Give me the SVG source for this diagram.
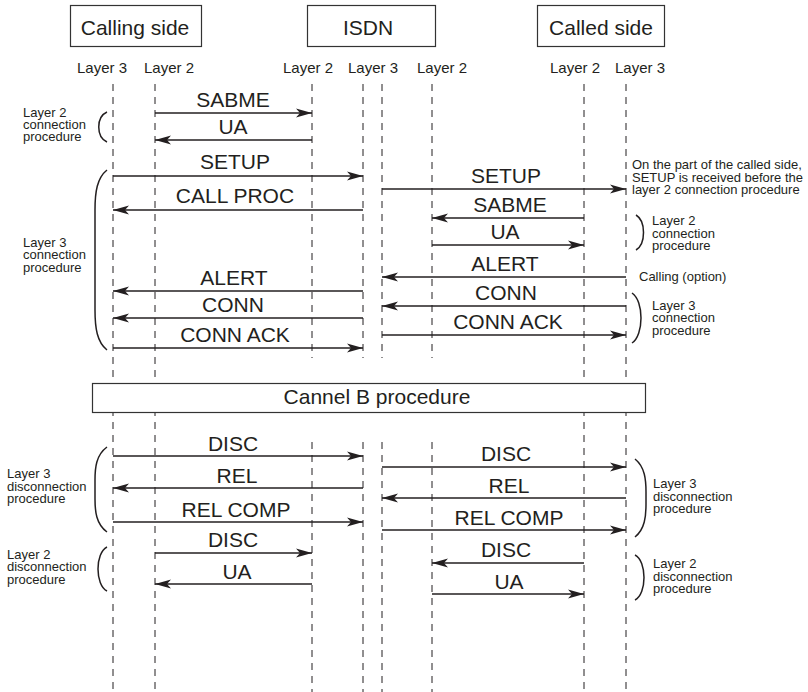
<svg xmlns="http://www.w3.org/2000/svg" width="808" height="692" viewBox="0 0 808 692">
<style>
  text { font-family: "Liberation Sans", Arial, sans-serif; fill: #231f20; }
  .hdr { font-size: 21px; text-anchor: middle; }
  .lay { font-size: 15px; text-anchor: middle; }
  .msgt { font-size: 21px; text-anchor: middle; }
  .note { font-size: 13px; }
  .box { fill: #fff; stroke: #333; stroke-width: 1.2; }
  .life { stroke: #231f20; stroke-width: 1; stroke-dasharray: 7 6; fill: none; }
  .msg { stroke: #231f20; stroke-width: 1.5; fill: none; marker-end: url(#ah); }
  .brace { stroke: #231f20; stroke-width: 1.5; fill: none; }
</style>
<defs>
  <marker id="ah" markerUnits="userSpaceOnUse" markerWidth="17" markerHeight="11" refX="16" refY="5" orient="auto">
    <path d="M0,0.5 L16,5 L0,9.5 L4,5 Z" fill="#231f20"/>
  </marker>
</defs>
<rect width="808" height="692" fill="#fff"/>

<g id="lifelines">
  <line class="life" x1="113" y1="84" x2="113" y2="692"/>
  <line class="life" x1="155" y1="84" x2="155" y2="692"/>
  <line class="life" x1="312" y1="84" x2="312" y2="358"/>
  <line class="life" x1="312" y1="442" x2="312" y2="692"/>
  <line class="life" x1="363" y1="84" x2="363" y2="358"/>
  <line class="life" x1="363" y1="442" x2="363" y2="692"/>
  <line class="life" x1="382" y1="84" x2="382" y2="358"/>
  <line class="life" x1="382" y1="442" x2="382" y2="692"/>
  <line class="life" x1="432" y1="84" x2="432" y2="358"/>
  <line class="life" x1="432" y1="442" x2="432" y2="692"/>
  <line class="life" x1="584" y1="84" x2="584" y2="692"/>
  <line class="life" x1="626" y1="84" x2="626" y2="692"/>
</g>

<g id="calling-side">
  <rect class="box" x="70.5" y="5.5" width="131" height="41"/>
  <text class="hdr" x="135" y="35">Calling side</text>
  <text class="lay" x="102" y="73">Layer 3</text>
  <text class="lay" x="169" y="73">Layer 2</text>
</g>
<g id="isdn">
  <rect class="box" x="307.5" y="5.5" width="128" height="41"/>
  <text class="hdr" x="368" y="35">ISDN</text>
  <text class="lay" x="308" y="73">Layer 2</text>
  <text class="lay" x="373" y="73">Layer 3</text>
  <text class="lay" x="442" y="73">Layer 2</text>
</g>
<g id="called-side">
  <rect class="box" x="537.5" y="5.5" width="127" height="41"/>
  <text class="hdr" x="601" y="35">Called side</text>
  <text class="lay" x="575" y="73">Layer 2</text>
  <text class="lay" x="640" y="73">Layer 3</text>
</g>

<g id="channel-b">
  <rect class="box" x="92.5" y="383.5" width="553" height="29"/>
  <text class="hdr" x="377" y="404">Cannel B procedure</text>
</g>

<g id="connectors">
  <line class="msg" x1="155" y1="113" x2="312" y2="113"/>
  <line class="msg" x1="312" y1="140" x2="155" y2="140"/>
  <line class="msg" x1="113" y1="176" x2="363" y2="176"/>
  <line class="msg" x1="363" y1="210" x2="113" y2="210"/>
  <line class="msg" x1="363" y1="291" x2="113" y2="291"/>
  <line class="msg" x1="363" y1="318" x2="113" y2="318"/>
  <line class="msg" x1="113" y1="348" x2="363" y2="348"/>

  <line class="msg" x1="382" y1="189" x2="626" y2="189"/>
  <line class="msg" x1="584" y1="218" x2="432" y2="218"/>
  <line class="msg" x1="432" y1="245" x2="584" y2="245"/>
  <line class="msg" x1="626" y1="277" x2="382" y2="277"/>
  <line class="msg" x1="626" y1="306" x2="382" y2="306"/>
  <line class="msg" x1="382" y1="335" x2="626" y2="335"/>

  <line class="msg" x1="113" y1="456" x2="363" y2="456"/>
  <line class="msg" x1="363" y1="488" x2="113" y2="488"/>
  <line class="msg" x1="113" y1="522" x2="363" y2="522"/>
  <line class="msg" x1="155" y1="553" x2="312" y2="553"/>
  <line class="msg" x1="312" y1="584" x2="155" y2="584"/>

  <line class="msg" x1="382" y1="467" x2="626" y2="467"/>
  <line class="msg" x1="626" y1="498" x2="382" y2="498"/>
  <line class="msg" x1="382" y1="530" x2="626" y2="530"/>
  <line class="msg" x1="584" y1="563" x2="432" y2="563"/>
  <line class="msg" x1="432" y1="594" x2="584" y2="594"/>
</g>

<g id="message-labels">
  <text class="msgt" x="233" y="107">SABME</text>
  <text class="msgt" x="233" y="134">UA</text>
  <text class="msgt" x="235" y="169">SETUP</text>
  <text class="msgt" x="235" y="203">CALL PROC</text>
  <text class="msgt" x="234" y="285">ALERT</text>
  <text class="msgt" x="233" y="312">CONN</text>
  <text class="msgt" x="235" y="342">CONN ACK</text>

  <text class="msgt" x="506" y="183">SETUP</text>
  <text class="msgt" x="510" y="212">SABME</text>
  <text class="msgt" x="505" y="239">UA</text>
  <text class="msgt" x="505" y="271">ALERT</text>
  <text class="msgt" x="506" y="300">CONN</text>
  <text class="msgt" x="508" y="329">CONN ACK</text>

  <text class="msgt" x="233" y="451">DISC</text>
  <text class="msgt" x="237" y="483">REL</text>
  <text class="msgt" x="236" y="517">REL COMP</text>
  <text class="msgt" x="233" y="547">DISC</text>
  <text class="msgt" x="237" y="579">UA</text>

  <text class="msgt" x="506" y="461">DISC</text>
  <text class="msgt" x="509" y="493">REL</text>
  <text class="msgt" x="509" y="525">REL COMP</text>
  <text class="msgt" x="506" y="557">DISC</text>
  <text class="msgt" x="509" y="589">UA</text>
</g>

<g id="annot-left-l2-conn">
  <path class="brace" d="M107,112 C96,117 96,137 107,142"/>
  <text class="note" x="23" y="117">Layer 2</text>
  <text class="note" x="23" y="129">connection</text>
  <text class="note" x="23" y="141">procedure</text>
</g>
<g id="annot-left-l3-conn">
  <path class="brace" d="M107,170 C97,178 95,192 95,210 L95,310 C95,328 97,342 107,350"/>
  <text class="note" x="23" y="246.5">Layer 3</text>
  <text class="note" x="23" y="259">connection</text>
  <text class="note" x="23" y="271.5">procedure</text>
</g>
<g id="annot-setup-note">
  <text class="note" x="632" y="169">On the part of the called side,</text>
  <text class="note" x="632" y="181.5">SETUP is received before the</text>
  <text class="note" x="632" y="194">layer 2 connection procedure</text>
</g>
<g id="annot-right-l2-conn">
  <path class="brace" d="M636,215 C646,221 646,244 636,250"/>
  <text class="note" x="652" y="225">Layer 2</text>
  <text class="note" x="652" y="237.5">connection</text>
  <text class="note" x="652" y="250">procedure</text>
</g>
<g id="annot-calling-option">
  <text class="note" x="639" y="281">Calling (option)</text>
</g>
<g id="annot-right-l3-conn">
  <path class="brace" d="M632,293 C644,301 644,335 632,343"/>
  <text class="note" x="652" y="309.5">Layer 3</text>
  <text class="note" x="652" y="322">connection</text>
  <text class="note" x="652" y="334.5">procedure</text>
</g>
<g id="annot-left-l3-disc">
  <path class="brace" d="M107,447 C96,455 95,468 95,480 L95,499 C95,511 96,524 107,532"/>
  <text class="note" x="7" y="478">Layer 3</text>
  <text class="note" x="7" y="490.5">disconnection</text>
  <text class="note" x="7" y="503">procedure</text>
</g>
<g id="annot-left-l2-disc">
  <path class="brace" d="M107,547 C95,553 95,585 107,591"/>
  <text class="note" x="7" y="558.5">Layer 2</text>
  <text class="note" x="7" y="571">disconnection</text>
  <text class="note" x="7" y="583.5">procedure</text>
</g>
<g id="annot-right-l3-disc">
  <path class="brace" d="M635,459 C645,467 646,480 646,492 L646,504 C646,516 645,529 635,537"/>
  <text class="note" x="653" y="488">Layer 3</text>
  <text class="note" x="653" y="500.5">disconnection</text>
  <text class="note" x="653" y="513">procedure</text>
</g>
<g id="annot-right-l2-disc">
  <path class="brace" d="M635,555 C647,561 647,594 635,600"/>
  <text class="note" x="653" y="568">Layer 2</text>
  <text class="note" x="653" y="580.5">disconnection</text>
  <text class="note" x="653" y="593">procedure</text>
</g>
</svg>
